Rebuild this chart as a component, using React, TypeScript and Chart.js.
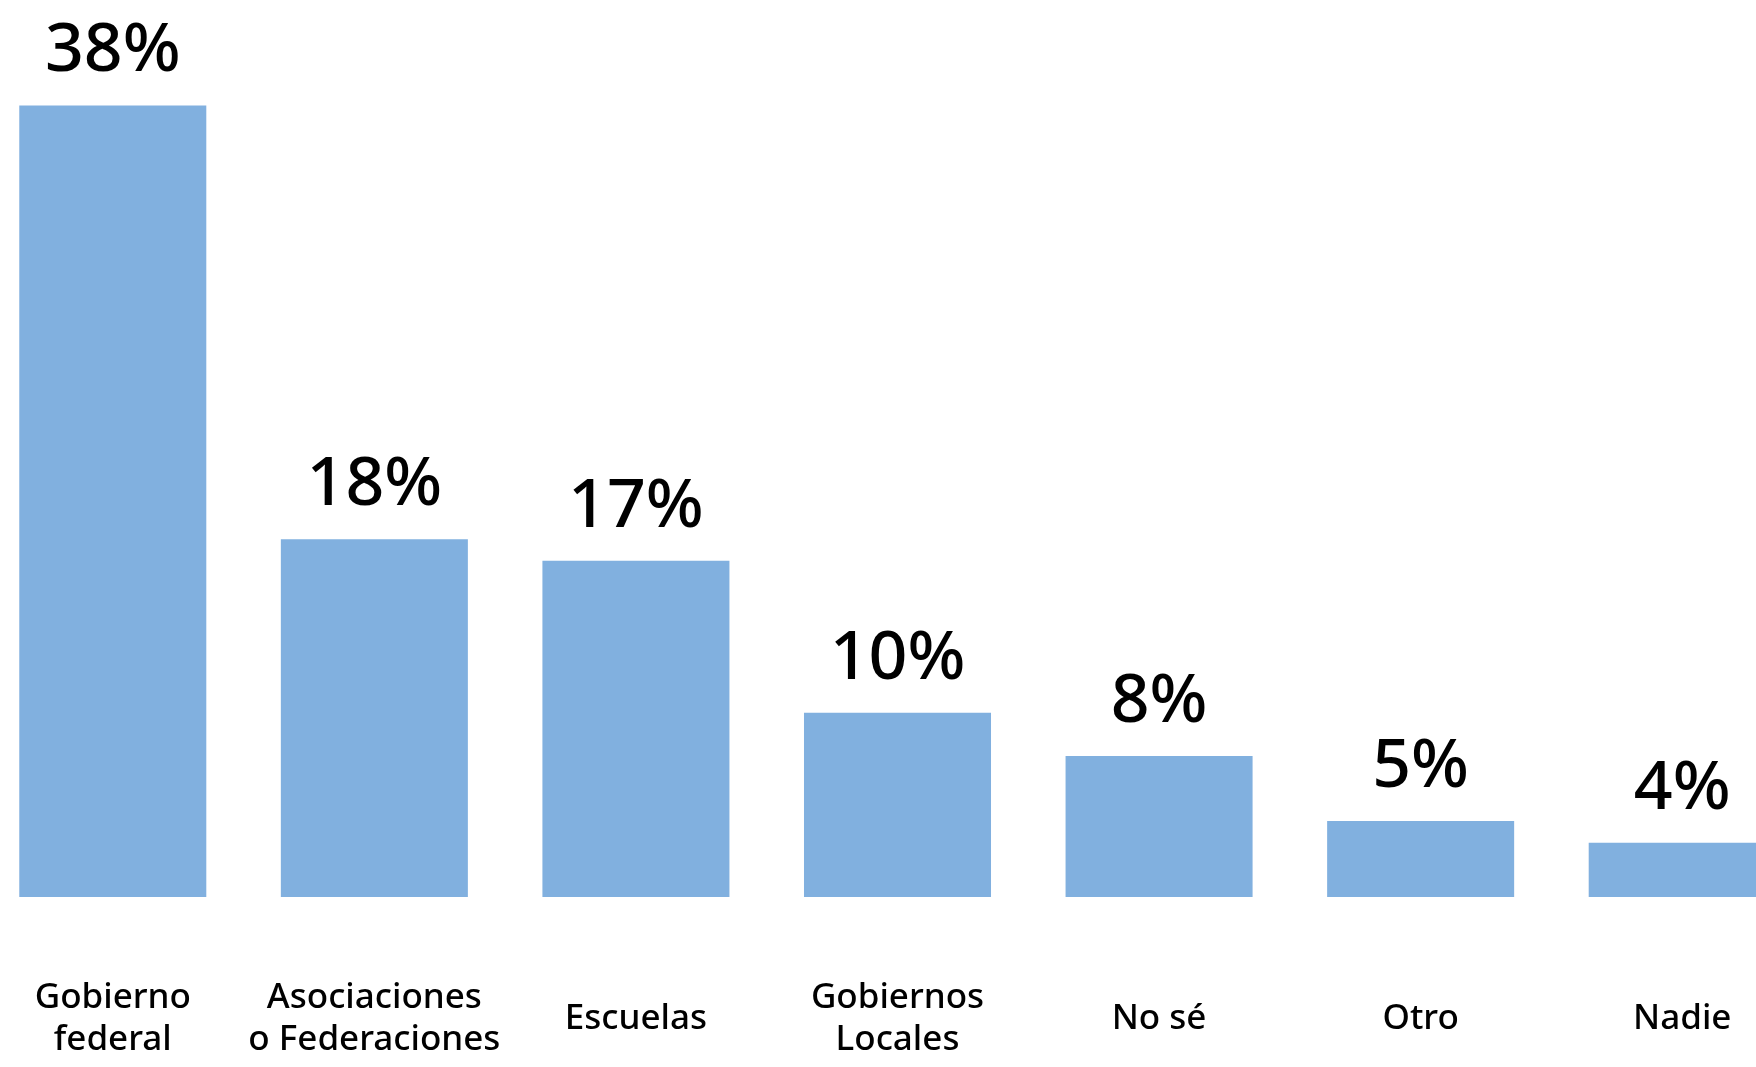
import React, { useEffect, useRef } from "react";
import { Chart, registerables } from "chart.js";

Chart.register(...registerables);

// Data
const categories: string[][] = [
  ["Gobierno", "federal"],
  ["Asociaciones", "o Federaciones"],
  ["Escuelas"],
  ["Gobiernos", "Locales"],
  ["No sé"],
  ["Otro"],
  ["Nadie"],
];
const values: number[] = [38, 18, 17, 10, 8, 5, 4];
const valueLabels: string[] = ["38%", "18%", "17%", "10%", "8%", "5%", "4%"];

const BAR_COLOR = "#81B0DF";
const FONT = "'Noto Sans', 'DejaVu Sans', sans-serif";

const labelsPlugin = {
  id: "customLabels",
  afterDatasetsDraw(chart: any) {
    const ctx: CanvasRenderingContext2D = chart.ctx;
    const meta = chart.getDatasetMeta(0);
    const xScale = chart.scales.x;
    const bottom = chart.chartArea.bottom;
    ctx.save();
    ctx.fillStyle = "#000000";
    ctx.textAlign = "center";
    ctx.textBaseline = "alphabetic";
    ctx.font = `500 68px ${FONT}`;
    meta.data.forEach((bar: any, i: number) => {
      ctx.fillText(valueLabels[i], bar.x, bar.y - 34);
    });
    ctx.font = `500 35px ${FONT}`;
    ctx.textBaseline = "middle";
    const lh = 42;
    categories.forEach((lines, i) => {
      const x = xScale.getPixelForValue(i);
      const n = lines.length;
      lines.forEach((line, k) => {
        const y = bottom + 122 + (k - (n - 1) / 2) * lh;
        ctx.fillText(line, x, y);
      });
    });
    ctx.restore();
  },
};

export default function App() {
  const canvasRef = useRef<HTMLCanvasElement | null>(null);

  useEffect(() => {
    const canvas = canvasRef.current;
    if (!canvas) return;
    const chart = new Chart(canvas, {
      type: "bar",
      data: {
        labels: categories.map((c) => c.join(" ")),
        datasets: [
          {
            data: values,
            backgroundColor: BAR_COLOR,
            borderWidth: 0,
            barPercentage: 0.715,
            categoryPercentage: 1,
          },
        ],
      },
      options: {
        responsive: false,
        animation: false,
        devicePixelRatio: 1,
        layout: { padding: { top: 62, bottom: 170, left: 0, right: 0 } },
        plugins: {
          legend: { display: false },
          tooltip: { enabled: false },
        },
        scales: {
          x: { display: false, offset: true },
          y: { display: false, min: 1.5, max: 40 },
        },
      },
      plugins: [labelsPlugin],
    });
    return () => chart.destroy();
  }, []);

  return (
    <div
      style={{
        position: "fixed",
        left: 0,
        top: 0,
        width: 1756,
        height: 1067,
        overflow: "hidden",
        background: "#ffffff",
      }}
    >
      <canvas
        ref={canvasRef}
        width={1831}
        height={1067}
        style={{ position: "absolute", left: -18, top: 0, width: 1831, height: 1067 }}
      />
    </div>
  );
}
